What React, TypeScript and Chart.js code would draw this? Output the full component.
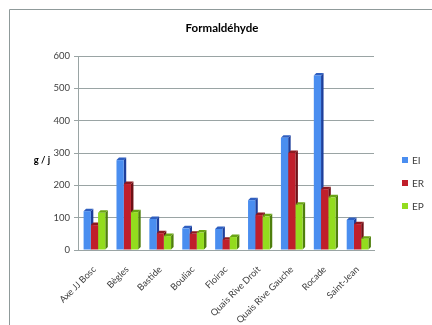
import React, { useEffect, useRef } from 'react';
import { Chart, registerables } from 'chart.js';

Chart.register(...registerables);

const chartTitle = 'Formaldéhyde';
const yAxisLabel = 'g / j';
const categories = [
  'Axe JJ Bosc',
  'Bègles',
  'Bastide',
  'Bouliac',
  'Floirac',
  'Quais Rive Droit',
  'Quais Rive Gauche',
  'Rocade',
  'Saint-Jean',
];
const seriesNames = ['EI', 'ER', 'EP'];
const eiValues = [120, 278, 96, 67, 65, 154, 347, 540, 93];
const erValues = [77, 204, 52, 50, 32, 108, 300, 188, 80];
const epValues = [115, 117, 43, 54, 40, 104, 140, 163, 35];
const yMin = 0;
const yMax = 600;
const yStep = 100;

const FRONT = ['#4a8ef0', '#c01f2b', '#93dc1e'];
const SIDE = ['#1d3f9c', '#6e1016', '#4f7f0d'];
const TOPC = ['#2f5fc0', '#8e1a20', '#6aa514'];
const FONT = 'Lato, "Open Sans", sans-serif';

const decor = {
  id: 'decor',
  beforeDatasetsDraw(chart: any) {
    const ctx = chart.ctx;
    const d = 2.5;
    ctx.save();
    chart.data.datasets.forEach((_ds: any, i: number) => {
      const meta = chart.getDatasetMeta(i);
      meta.data.forEach((bar: any) => {
        const { x, y, base, width } = bar.getProps(['x', 'y', 'base', 'width'], true);
        const l = x - width / 2;
        const r = x + width / 2;
        ctx.fillStyle = SIDE[i];
        ctx.beginPath();
        ctx.moveTo(r, y);
        ctx.lineTo(r + d, y - d);
        ctx.lineTo(r + d, base - d);
        ctx.lineTo(r, base);
        ctx.closePath();
        ctx.fill();
        ctx.fillStyle = TOPC[i];
        ctx.beginPath();
        ctx.moveTo(l, y);
        ctx.lineTo(l + d, y - d);
        ctx.lineTo(r + d, y - d);
        ctx.lineTo(r, y);
        ctx.closePath();
        ctx.fill();
      });
    });
    ctx.restore();
  },
  afterDraw(chart: any) {
    const ctx = chart.ctx;
    const area = chart.chartArea;
    ctx.save();
    // outer border
    ctx.strokeStyle = '#8f9a9a';
    ctx.lineWidth = 1;
    ctx.beginPath();
    ctx.moveTo(9.5, chart.height);
    ctx.lineTo(9.5, 9.5);
    ctx.lineTo(chart.width, 9.5);
    ctx.stroke();
    // title
    ctx.fillStyle = '#000000';
    ctx.font = `bold 11.5px ${FONT}`;
    ctx.textAlign = 'center';
    ctx.textBaseline = 'middle';
    ctx.fillText(chartTitle, 222, 28);
    // y axis label
    ctx.font = `bold 9.5px ${FONT}`;
    ctx.textAlign = 'center';
    ctx.fillText(yAxisLabel, 42, (area.top + area.bottom) / 2 + 7);
    // legend
    ctx.font = `10px ${FONT}`;
    ctx.textAlign = 'left';
    seriesNames.forEach((name, i) => {
      const cy = 160 + i * 23;
      ctx.fillStyle = FRONT[i];
      ctx.fillRect(402, cy - 3, 6, 6);
      ctx.fillStyle = '#404040';
      ctx.fillText(name, 412, cy + 0.5);
    });
    ctx.restore();
  },
};

export default function App() {
  const ref = useRef<HTMLCanvasElement | null>(null);
  useEffect(() => {
    document.body.style.margin = '0';
    const canvas = ref.current;
    if (!canvas) return;
    const series = [eiValues, erValues, epValues];
    const chart = new Chart(canvas, {
      type: 'bar',
      data: {
        labels: categories,
        datasets: series.map((vals, i) => ({
          label: seriesNames[i],
          data: vals,
          backgroundColor: FRONT[i],
          borderWidth: 0,
          categoryPercentage: 0.66,
          barPercentage: 1.0,
        })),
      },
      options: {
        responsive: false,
        animation: false,
        devicePixelRatio: 1,
        layout: { padding: { top: 56, right: 58, left: 0, bottom: 0 } },
        plugins: {
          legend: { display: false },
          title: { display: false },
          tooltip: { enabled: false },
        },
        scales: {
          x: {
            grid: { display: false },
            border: { display: true, color: '#9aa4a4', width: 1 },
            ticks: {
              color: '#404040',
              font: { family: FONT, size: 9.2 },
              maxRotation: 45,
              minRotation: 45,
              autoSkip: false,
              padding: 6,
            },
            afterFit: (scale: any) => {
              scale.height = 75;
            },
          },
          y: {
            min: yMin,
            max: yMax,
            grid: { color: '#9aa4a4', tickLength: 4, lineWidth: 1 },
            border: { display: true, color: '#9aa4a4', width: 1 },
            ticks: {
              stepSize: yStep,
              color: '#404040',
              font: { family: FONT, size: 9.5 },
              padding: 4,
            },
            afterFit: (scale: any) => {
              scale.width = 78;
            },
          },
        },
      },
      plugins: [decor],
    });
    return () => chart.destroy();
  }, []);
  return (
    <div style={{ width: 432, height: 325, background: '#ffffff' }}>
      <canvas ref={ref} width={432} height={325} style={{ display: 'block' }} />
    </div>
  );
}
